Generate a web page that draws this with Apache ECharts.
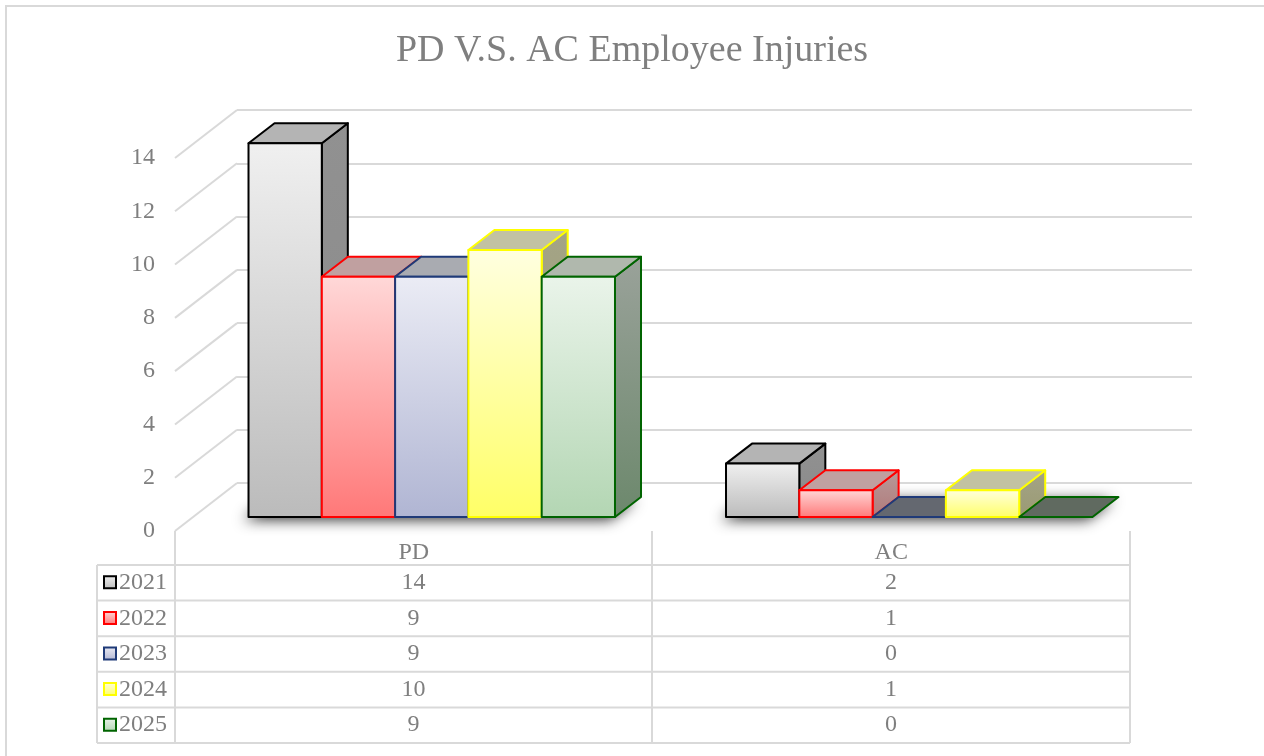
<!DOCTYPE html>
<html>
<head>
<meta charset="utf-8">
<script src="https://cdn.jsdelivr.net/npm/echarts@6/dist/echarts.min.js"></script>
<style>
  html, body { margin: 0; padding: 0; background: #fff; }
  #chart { width: 1264px; height: 756px; }
</style>
</head>
<body>
<div id="chart"></div>
<script>
// data
var categories = ['PD', 'AC'];
var years = ['2021', '2022', '2023', '2024', '2025'];
var injuries2021 = [14, 2];
var injuries2022 = [9, 1];
var injuries2023 = [9, 0];
var injuries2024 = [10, 1];
var injuries2025 = [9, 0];
var yTicks = [0, 2, 4, 6, 8, 10, 12, 14];

var seriesValues = [injuries2021, injuries2022, injuries2023, injuries2024, injuries2025];

// look of each year (stroke, front gradient, top, top when empty, side gradient)
var looks = [
    { stroke: '#000000', f1: '#f0f0f0', f2: '#bbbbbb', top: '#b4b4b4', topZero: '#666666', s1: '#919191', s2: '#8a8a8a' },
    { stroke: '#ff0000', f1: '#ffd8d8', f2: '#ff7878', top: '#c0a0a0', topZero: '#6a5a5a', s1: '#b89a9a', s2: '#b07a7a' },
    { stroke: '#1f3a78', f1: '#ebecf5', f2: '#b0b5d3', top: '#a9abb1', topZero: '#646870', s1: '#9a9ca6', s2: '#8c8e9c' },
    { stroke: '#ffff00', f1: '#ffffe0', f2: '#ffff66', top: '#c2c2a2', topZero: '#6a6a5a', s1: '#a4a486', s2: '#9a9a74' },
    { stroke: '#006400', f1: '#eaf4ea', f2: '#b3d6b3', top: '#b0b8ad', topZero: '#606a60', s1: '#9aa29a', s2: '#6c886c' }
];

var FONT = 'Liberation Serif';
var TXT = '#7f7f7f';
var LINE = '#d9d9d9';

// share of a category taken by one bar, and depth of the boxes
var BAR_SHARE = 0.1535;
var DEPTH_X = 0.355;
var DEPTH_Y = 0.273;
// depth of the side wall (back grid -> front edge)
var WALL_X = 62;
var WALL_Y = 48;

var chart = echarts.init(document.getElementById('chart'));

function barRenderer(s) {
    var look = looks[s];
    return function (params, api) {
        var cat = api.value(0);
        var val = api.value(1);
        var base = api.coord([cat, 0]);
        var top = api.coord([cat, val]);
        var bw = api.size([1, 0])[0] * BAR_SHARE;
        var dx = bw * DEPTH_X, dy = bw * DEPTH_Y;
        var x0 = base[0] - 2.5 * bw + s * bw;
        var x1 = x0 + bw;
        var yt = top[1], yb = base[1];
        var children = [];
        var lineStyle = { stroke: look.stroke, lineWidth: 2, lineJoin: 'round' };
        if (val > 0) {
            children.push({
                type: 'polygon',
                shape: { points: [[x1, yt], [x1 + dx, yt - dy], [x1 + dx, yb - dy], [x1, yb]] },
                style: Object.assign({
                    fill: new echarts.graphic.LinearGradient(0, 0, 0, 1, [
                        { offset: 0, color: look.s1 }, { offset: 1, color: look.s2 }])
                }, lineStyle)
            });
        }
        children.push({
            type: 'polygon',
            shape: { points: [[x0, yt], [x1, yt], [x1 + dx, yt - dy], [x0 + dx, yt - dy]] },
            style: Object.assign({ fill: val > 0 ? look.top : look.topZero }, lineStyle)
        });
        if (val > 0) {
            children.push({
                type: 'rect',
                shape: { x: x0, y: yt, width: bw, height: yb - yt },
                style: Object.assign({
                    fill: new echarts.graphic.LinearGradient(0, 0, 0, 1, [
                        { offset: 0, color: look.f1 }, { offset: 1, color: look.f2 }])
                }, lineStyle)
            });
        }
        return { type: 'group', children: children };
    };
}

// soft shadow under each group of bars
function shadowRenderer(params, api) {
    var cat = api.value(0);
    var base = api.coord([cat, 0]);
    var bw = api.size([1, 0])[0] * BAR_SHARE;
    var dx = bw * DEPTH_X, dy = bw * DEPTH_Y;
    var x0 = base[0] - 2.5 * bw;
    var x1 = x0 + 5 * bw;
    var yb = base[1];
    return {
        type: 'polygon',
        shape: { points: [[x0, yb], [x1, yb], [x1 + dx, yb - dy], [x0 + dx, yb - dy]] },
        style: {
            fill: '#666666',
            shadowBlur: 14,
            shadowColor: 'rgba(0,0,0,0.8)',
            shadowOffsetX: -5,
            shadowOffsetY: 3
        }
    };
}

// diagonal lines on the side wall
function wallRenderer(params, api) {
    var p = api.coord([0, api.value(0)]);
    return {
        type: 'line',
        shape: { x1: p[0], y1: p[1], x2: p[0] - WALL_X, y2: p[1] + WALL_Y },
        style: { stroke: LINE, lineWidth: 2 }
    };
}

var series = [
    {
        type: 'custom',
        xAxisIndex: 0, yAxisIndex: 0,
        renderItem: wallRenderer,
        data: yTicks.map(function (t) { return [t]; }),
        encode: { y: 0 },
        silent: true, z: 1
    },
    {
        type: 'custom',
        xAxisIndex: 2, yAxisIndex: 2,
        renderItem: shadowRenderer,
        data: categories.map(function (c, i) { return [i, 0]; }),
        encode: { x: 0, y: 1 },
        silent: true, z: 2
    }
];
years.forEach(function (y, s) {
    series.push({
        name: y,
        type: 'custom',
        xAxisIndex: 2, yAxisIndex: 2,
        renderItem: barRenderer(s),
        data: seriesValues[s].map(function (v, i) { return [i, v]; }),
        encode: { x: 0, y: 1 },
        z: 10 + s
    });
});

// data table under the chart
var tableLeft = 97, col1 = 175, col2 = 652, col3 = 1130;
var rowTop = 565, rowH = 35.6;
var colCenters = [(col1 + col2) / 2, (col2 + col3) / 2];
var tableFont = '24px "' + FONT + '"';
var graphic = [];
graphic.push({
    type: 'rect', silent: true,
    shape: { x: 6, y: 6, width: 1400, height: 900 },
    style: { fill: 'none', stroke: LINE, lineWidth: 2 }
});
var tableBottom = rowTop + rowH * years.length;
graphic.push({ type: 'line', silent: true, shape: { x1: tableLeft, y1: rowTop, x2: tableLeft, y2: tableBottom }, style: { stroke: LINE, lineWidth: 2 } });
[col1, col2, col3].forEach(function (x) {
    graphic.push({ type: 'line', silent: true, shape: { x1: x, y1: 531, x2: x, y2: tableBottom }, style: { stroke: LINE, lineWidth: 2 } });
});
for (var r = 0; r <= years.length; r++) {
    var yy = rowTop + rowH * r;
    graphic.push({ type: 'line', silent: true, shape: { x1: tableLeft, y1: yy, x2: col3, y2: yy }, style: { stroke: LINE, lineWidth: 2 } });
}
years.forEach(function (y, s) {
    var cy = rowTop + rowH * (s + 0.5);
    var look = looks[s];
    graphic.push({
        type: 'rect', silent: true,
        shape: { x: 104, y: cy - 6.5, width: 12, height: 12 },
        style: {
            fill: new echarts.graphic.LinearGradient(0, 0, 0, 1, [
                { offset: 0, color: look.f1 }, { offset: 1, color: look.f2 }]),
            stroke: look.stroke, lineWidth: 2
        }
    });
    graphic.push({
        type: 'text', silent: true,
        style: { text: y, x: 119, y: cy, textVerticalAlign: 'middle', textAlign: 'left', font: tableFont, fill: TXT }
    });
    categories.forEach(function (c, i) {
        graphic.push({
            type: 'text', silent: true,
            style: { text: String(seriesValues[s][i]), x: colCenters[i], y: cy, textVerticalAlign: 'middle', textAlign: 'center', font: tableFont, fill: TXT }
        });
    });
});

var option = {
    backgroundColor: '#ffffff',
    animation: false,
    title: {
        text: 'PD V.S. AC Employee Injuries',
        left: 'center',
        top: 27,
        textStyle: { fontFamily: FONT, fontSize: 38, fontWeight: 'normal', color: TXT }
    },
    grid: [
        { left: 237, right: 72, top: 110, bottom: 273 },   // back wall
        { left: 175, right: 134, top: 158, bottom: 225 },  // front edge
        { left: 193, right: 116, top: 143.2, bottom: 239 } // front of the bars
    ],
    xAxis: [
        { gridIndex: 0, type: 'value', min: 0, max: 1, show: false },
        {
            gridIndex: 1, type: 'category', data: categories,
            axisLine: { show: false }, axisTick: { show: false },
            axisLabel: { fontFamily: FONT, fontSize: 24, color: TXT, margin: 10 }
        },
        { gridIndex: 2, type: 'category', data: categories, show: false }
    ],
    yAxis: [
        {
            gridIndex: 0, type: 'value', min: 0, max: 14, interval: 2,
            axisLine: { show: false }, axisTick: { show: false }, axisLabel: { show: false },
            splitLine: { show: true, lineStyle: { color: LINE, width: 2 } }
        },
        {
            gridIndex: 1, type: 'value', min: 0, max: 14, interval: 2,
            axisLine: { show: false }, axisTick: { show: false }, splitLine: { show: false },
            axisLabel: { fontFamily: FONT, fontSize: 24, color: TXT, margin: 20 }
        },
        { gridIndex: 2, type: 'value', min: 0, max: 14, show: false }
    ],
    graphic: graphic,
    series: series
};

chart.setOption(option);
</script>
</body>
</html>
